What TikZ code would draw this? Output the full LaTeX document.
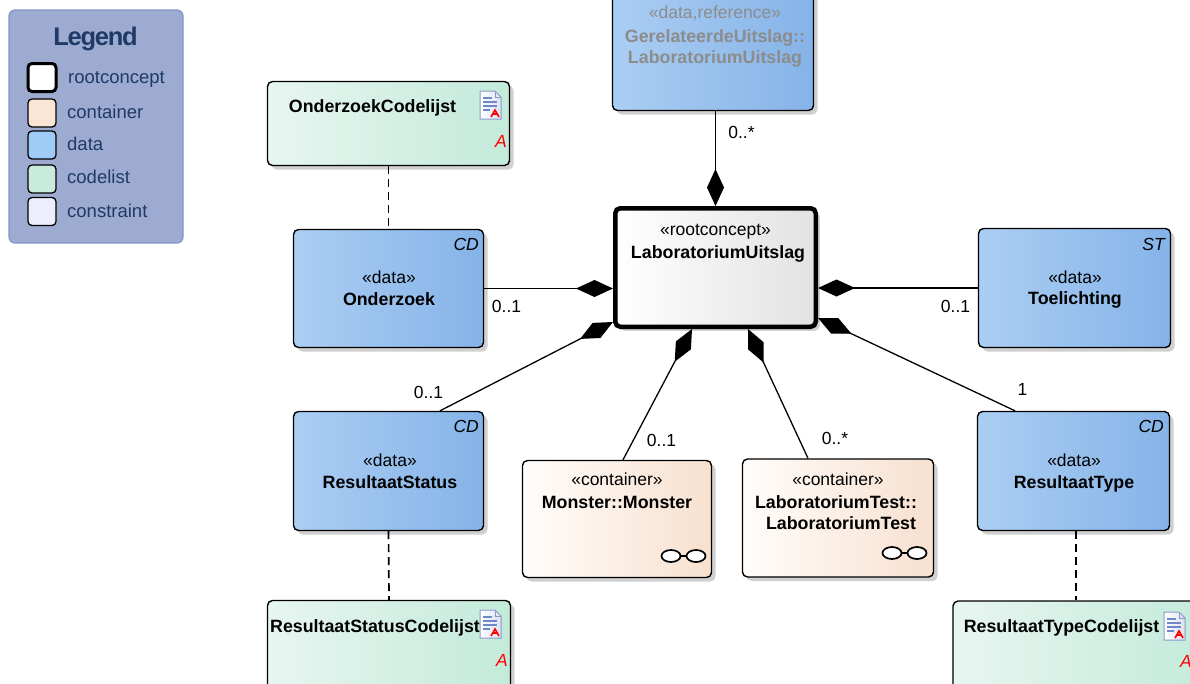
\documentclass[tikz,border=0pt]{standalone}
\usepackage{fontspec}
\setmainfont{Liberation Sans}
\usetikzlibrary{arrows.meta,shadows,calc}
\definecolor{dataL}{HTML}{ABCEF3}
\definecolor{dataR}{HTML}{85B3E8}
\definecolor{codeL}{HTML}{E7F6F0}
\definecolor{codeR}{HTML}{C3EADA}
\definecolor{contL}{HTML}{FFFDFB}
\definecolor{contR}{HTML}{F7E0CF}
\definecolor{rootR}{HTML}{E2E2E2}
\definecolor{shadowgray}{HTML}{D0D0D0}
\definecolor{legfill}{HTML}{9DABD0}
\definecolor{legdraw}{HTML}{8594C2}
\definecolor{legtext}{HTML}{1F3A66}
\definecolor{swcont}{HTML}{FBE6D6}
\definecolor{swdata}{HTML}{9FCBF7}
\definecolor{swcode}{HTML}{C8EBDD}
\definecolor{swcons}{HTML}{ECEEFB}
\definecolor{refgray}{HTML}{8C8C8C}
\definecolor{iconblue}{HTML}{7088C8}
\definecolor{iconedge}{HTML}{8A9AC8}
\begin{document}
\begin{tikzpicture}[x=1pt,y=-1pt,
  box/.style={draw=black, line width=1.4pt, rounded corners=5pt, inner sep=0pt,
    drop shadow={shadow xshift=4pt,shadow yshift=-4pt,fill=shadowgray,opacity=1}},
  databox/.style={box,left color=dataL,right color=dataR},
  codebox/.style={box,left color=codeL,right color=codeR},
  contbox/.style={box,left color=contL,right color=contR},
  rootbox/.style={box,line width=4.5pt,left color=white,right color=rootR},
  txt/.style={inner sep=0pt,anchor=base,font=\fontsize{17.5}{21}\selectfont},
  btxt/.style={inner sep=0pt,anchor=base,font=\fontsize{17.8}{21}\selectfont\bfseries},
  gtxt/.style={txt,text=refgray},
  gbtxt/.style={btxt,text=refgray},
  itxt/.style={inner sep=0pt,anchor=base east,font=\fontsize{17.5}{21}\selectfont\itshape},
  atxt/.style={itxt,text=red},
  lbl/.style={inner sep=0pt,anchor=base,font=\fontsize{17.5}{21}\selectfont},
  comp/.style={draw=black,line width=1.3pt,-{Diamond[length=37pt,width=17pt,fill=black]}},
  dep/.style={draw=black,line width=1.7pt,dash pattern=on 8pt off 5pt},
  swatch/.style={draw=black,line width=1.3pt,rounded corners=4pt,minimum width=28pt,minimum height=28pt,inner sep=0pt},
  legtxt/.style={inner sep=0pt,anchor=base west,text=legtext,font=\fontsize{18.5}{22}\selectfont},
  docicon/.pic={
    \path[draw=iconedge,line width=1pt,left color=white,right color=iconblue!25]
      (2,0) -- (17,0) -- (23,6) -- (23,28) -- (2,28) -- cycle;
    \draw[iconedge,line width=0.8pt] (17,0) -- (17,6) -- (23,6);
    \draw[iconblue,line width=1.2pt] (5,7) -- (14,7) (5,11) -- (19,11) (5,15) -- (19,15) (5,19) -- (12,19);
    \draw[red,line width=1.6pt] (13,26) -- (17,19) -- (21,26) (15,23) -- (20,23);
  },
  glasses/.pic={
    \draw[black,line width=1.7pt,fill=white] (-9,0) ellipse [x radius=9.5,y radius=6];
    \draw[black,line width=1.7pt,fill=white] (16,0) ellipse [x radius=9.5,y radius=6];
    \draw[black,line width=1.7pt] (0.5,0) -- (6.5,0);
  }]
\useasboundingbox (0,0) rectangle (1190,683);
\clip (0,0) rectangle (1190,683);

% Legend
\node[draw=legdraw,fill=legfill,line width=1.2pt,rounded corners=6pt,minimum width=174pt,minimum height=233pt,inner sep=0pt] (legend) at (96,126.5) {};
\node[inner sep=0pt,anchor=base,text=legtext,font=\fontsize{25.5}{26}\selectfont\bfseries\addfontfeatures{LetterSpace=-5}] (legtitle) at (95.5,45) {Legend};
\node[swatch,fill=white,line width=3pt] (sw1) at (42,77.5) {};
\node[swatch,fill=swcont] (sw2) at (42,113) {};
\node[swatch,fill=swdata] (sw3) at (42,145) {};
\node[swatch,fill=swcode] (sw4) at (42,179) {};
\node[swatch,fill=swcons] (sw5) at (42,211.5) {};
\node[legtxt] (lt1) at (68,83) {rootconcept};
\node[legtxt] (lt2) at (67,118) {container};
\node[legtxt] (lt3) at (67,150.5) {data};
\node[legtxt] (lt4) at (67,183.5) {codelist};
\node[legtxt] (lt5) at (67,217) {constraint};

% Boxes
\node[databox,minimum width=201pt,minimum height=120pt] (ref) at (713,50.5) {};
\node[codebox,minimum width=242pt,minimum height=84pt] (ocl) at (388.5,123.5) {};
\node[databox,minimum width=190pt,minimum height=118pt] (onderzoek) at (388.5,288.5) {};
\node[rootbox,minimum width=200.5pt,minimum height=118.5pt] (root) at (715.5,267.5) {};
\node[databox,minimum width=192pt,minimum height=119pt] (toel) at (1074.5,288) {};
\node[databox,minimum width=190pt,minimum height=119pt] (rstatus) at (388.5,471) {};
\node[databox,minimum width=192pt,minimum height=119pt] (rtype) at (1073.5,471) {};
\node[contbox,minimum width=189pt,minimum height=117pt] (monster) at (617,519) {};
\node[contbox,minimum width=191pt,minimum height=118pt] (labtest) at (838,518) {};
\node[codebox,minimum width=243pt,minimum height=100pt] (rscl) at (389,650.5) {};
\node[codebox,minimum width=260pt,minimum height=100pt] (rtcl) at (1083,651) {};

% Texts
\node[gtxt] (t-ref1) at (715,18.5) {«data,reference»};
\node[gbtxt] (t-ref2) at (715,42.5) {GerelateerdeUitslag::};
\node[gbtxt] (t-ref3) at (715,63.5) {LaboratoriumUitslag};

\node[btxt] (t-ocl) at (372.5,112.5) {OnderzoekCodelijst};
\pic at (478,91) {docicon};
\node[atxt] (a-ocl) at (507,147) {A};

\node[itxt] (cd1) at (479,250) {CD};
\node[txt] (t-on1) at (389,283) {«data»};
\node[btxt] (t-on2) at (389,305) {Onderzoek};

\node[txt] (t-root1) at (715.5,235.5) {«rootconcept»};
\node[btxt] (t-root2) at (718,258) {LaboratoriumUitslag};

\node[itxt] (st1) at (1165,250) {ST};
\node[txt] (t-to1) at (1075,283) {«data»};
\node[btxt] (t-to2) at (1075,304) {Toelichting};

\node[itxt] (cd2) at (479,432) {CD};
\node[txt] (t-rs1) at (390,466) {«data»};
\node[btxt] (t-rs2) at (390,488) {ResultaatStatus};

\node[itxt] (cd3) at (1164,432) {CD};
\node[txt] (t-rt1) at (1074,466) {«data»};
\node[btxt] (t-rt2) at (1074,488) {ResultaatType};

\node[txt] (t-mo1) at (617,485.5) {«container»};
\node[btxt] (t-mo2) at (617,508) {Monster::Monster};
\pic at (680,556) {glasses};

\node[txt] (t-lt1) at (838,485.5) {«container»};
\node[btxt] (t-lt2) at (836,508) {LaboratoriumTest::};
\node[btxt] (t-lt3) at (841,529.5) {LaboratoriumTest};
\pic at (901,553) {glasses};

\node[btxt] (t-rscl) at (375,632) {ResultaatStatusCodelijst};
\pic at (478,610) {docicon};
\node[atxt] (a-rscl) at (508,666) {A};

\node[btxt] (t-rtcl) at (1061.5,632) {ResultaatTypeCodelijst};
\pic at (1162,612) {docicon};
\node[atxt] (a-rtcl) at (1192,667) {A};

% Dependencies (dashed)
\draw[dep] (ocl.south) -- (onderzoek.north);
\draw[dep] (rstatus.south) -- (rscl.north);
\draw[dep] ([xshift=2.5pt]rtype.south) -- ([xshift=2.5pt]rtype.south |- rtcl.north);

% Compositions
\draw[comp] (ref.south -| root.north) -- (root.north);
\draw[comp] (onderzoek.east) -- (onderzoek.east -| root.west);
\draw[comp] (toel.west) -- (toel.west -| root.east);
\draw[comp] ([xshift=51.5pt]rstatus.north) -- ([yshift=7pt]root.south west);
\draw[comp] ([xshift=-58.5pt]rtype.north) -- ([yshift=11pt]root.south east);
\draw[comp] ([xshift=6pt]monster.north) -- ([xshift=-23.5pt]root.south);
\draw[comp] ([xshift=-30pt]labtest.north) -- ([xshift=32.5pt]root.south);

% Multiplicities
\node[lbl] (m1) at (741.5,138) {0..*};
\node[lbl] (m2) at (506.5,312) {0..1};
\node[lbl] (m3) at (955.5,312) {0..1};
\node[lbl] (m4) at (428.5,398.5) {0..1};
\node[lbl] (m5) at (661.5,446) {0..1};
\node[lbl] (m6) at (835,444) {0..*};
\node[lbl] (m7) at (1022.5,395.5) {1};
\end{tikzpicture}
\end{document}
